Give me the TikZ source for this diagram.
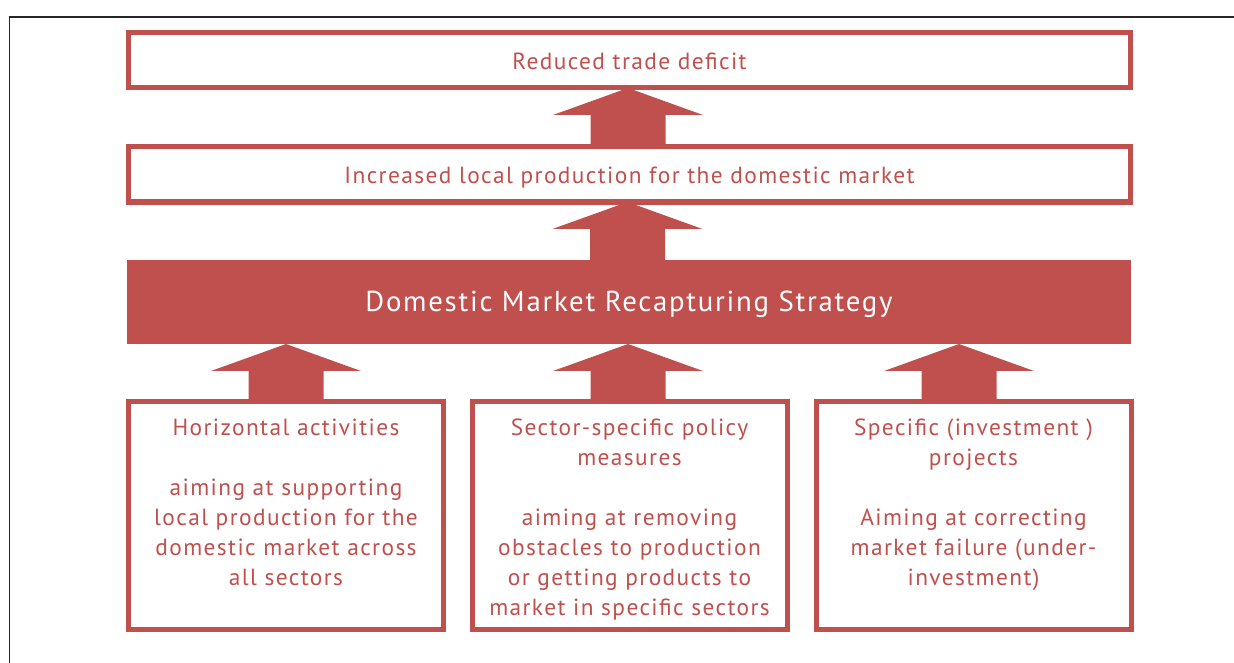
\documentclass[tikz,border=0pt]{standalone}
\usepackage{fontspec}
\setmainfont[LetterSpace=6]{PT Sans}
\usepackage{xcolor}
\usepackage{tikz}
\usetikzlibrary{positioning,calc}
\definecolor{strategyred}{HTML}{C0504D}
\definecolor{framegray}{HTML}{262626}

\newcommand\blockarrow[3][0cm]{%
  \fill[strategyred] let \p1=($(#2.north)+(#1,0)$), \p2=(\p1 |- #3.south) in
    (\x1-0.75cm,\y1) -- (\x1-0.75cm,\y2-0.54cm) -- (\x1-1.5cm,\y2-0.54cm)
    -- (\x2,\y2) -- (\x1+1.5cm,\y2-0.54cm) -- (\x1+0.75cm,\y2-0.54cm)
    -- (\x1+0.75cm,\y1) -- cycle;}

\begin{document}
\begin{tikzpicture}
      [outcome/.style={rectangle, draw=strategyred, line width=2.85pt, fill=white,
         minimum width=20.04cm, minimum height=1.1cm, outer sep=0pt,
         text height=12pt, text depth=2pt,
         text=strategyred, font=\fontsize{13.3}{17}\selectfont},
      strategy/.style={rectangle, fill=strategyred, minimum width=20.08cm,
         minimum height=1.68cm, outer sep=0pt, text=white,
         text height=14.8pt, text depth=4pt,
         font=\fontsize{16.4}{20}\selectfont},
      pillar/.style={rectangle, draw=strategyred, line width=2.85pt, fill=white,
         minimum width=6.3cm, minimum height=4.56cm, outer sep=0pt},
      pillartext/.style={inner sep=0pt, align=center, text=strategyred,
         font=\fontsize{13.3}{17}\selectfont},
      ]
      \useasboundingbox (0,0) rectangle (24.68,-13.26);
      \draw[framegray, line width=0.6pt] (0.19,-13.26) -- (0.19,-0.34) -- (24.68,-0.34);

      \node[outcome] (deficit) at (12.59,-1.21) {Reduced trade deficit};
      \node[outcome] (production) at (12.59,-3.49)
        {Increased local production for the domestic market};
      \node[strategy] (drs) at (12.58,-6.04) {Domestic Market Recapturing Strategy};

      \node[pillar] (horizontal) at (5.72,-10.31) {};
      \node[pillar] (sectoral) at (12.59,-10.31) {};
      \node[pillar] (projects) at (19.47,-10.31) {};

      \node[pillartext, below=0.35cm of horizontal.north] (horizontaltxt)
        {Horizontal activities\\[17pt]aiming at supporting\\local production for the\\
         domestic market across\\all sectors};
      \node[pillartext, below=0.35cm of sectoral.north] (sectoraltxt)
        {Sector-specific policy\\measures\\[17pt]aiming at removing\\
         obstacles to production\\or getting products to\\market in specific sectors};
      \node[pillartext, below=0.35cm of projects.north] (projectstxt)
        {Specific (investment )\\projects\\[17pt]Aiming at correcting\\
         market failure (under-\\investment)};

      \blockarrow[-0.03cm]{production}{deficit}
      \blockarrow[-0.03cm]{drs}{production}
      \blockarrow{horizontal}{drs}
      \blockarrow[-0.03cm]{sectoral}{drs}
      \blockarrow[-0.29cm]{projects}{drs}
\end{tikzpicture}
\end{document}
